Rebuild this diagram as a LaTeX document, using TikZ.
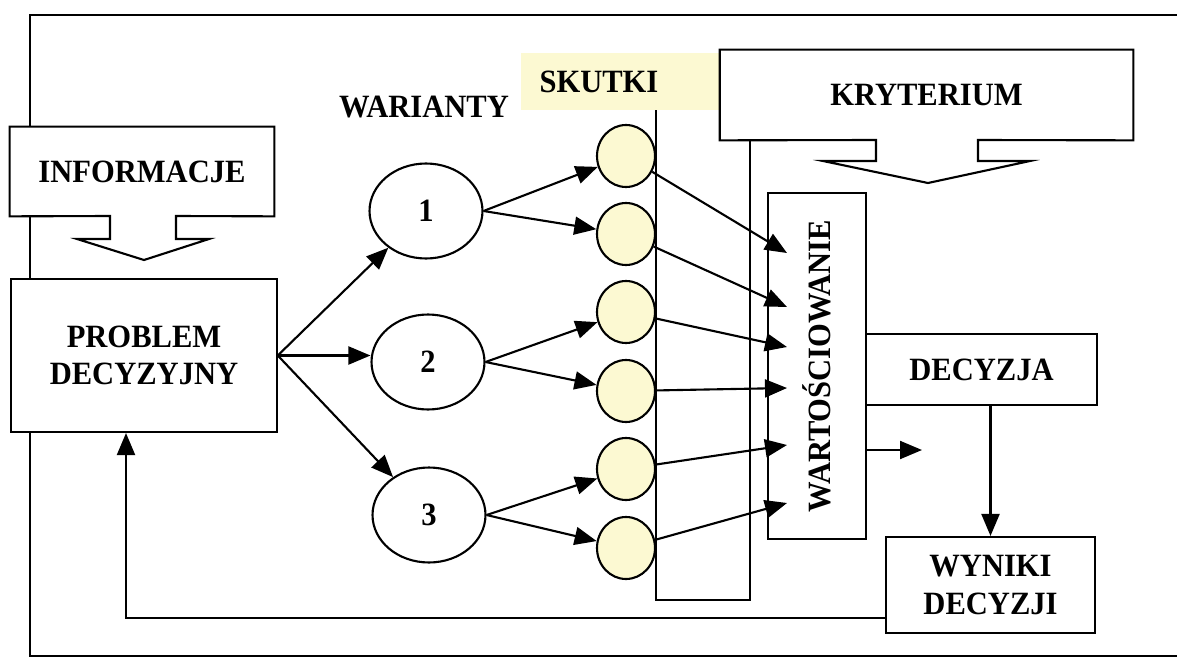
\documentclass[tikz,border=0pt]{standalone}
\usepackage{fontspec}
\setmainfont{Liberation Serif}[FakeStretch=0.94]
\usetikzlibrary{arrows.meta,positioning,shapes.geometric}
\definecolor{paleyellow}{RGB}{252,249,210}
\newcommand{\boxfont}{\fontsize{18.5}{21.5}\selectfont\bfseries}
\tikzset{
  panel/.style={draw=black, line width=1.2pt, fill=white, align=center, inner sep=0pt, font=\boxfont},
  plate/.style={fill=white, align=center, inner sep=0pt, font=\boxfont},
  title/.style={inner sep=0pt, font=\boxfont},
  variant/.style={ellipse, draw=black, line width=1.2pt, fill=white, minimum width=2.26cm, minimum height=1.9cm, inner sep=0pt, font=\boxfont},
  effect/.style={ellipse, draw=black, line width=1.2pt, fill=paleyellow, minimum width=1.16cm, minimum height=1.24cm, inner sep=0pt},
  wire/.style={line width=1.2pt, draw=black},
  flow/.style={-{Triangle[length=4.4mm, width=3.6mm]}, line width=1.2pt, draw=black}
}

\begin{document}
\begin{tikzpicture}[x=0.02cm, y=-0.02cm]
  \useasboundingbox (0,0) rectangle (1177,659);
  % frame
  \draw[wire] (1177,15) -- (30,15) -- (30,656) -- (1177,656);

  % left part
  \node[plate, minimum width=5.28cm, minimum height=1.78cm] (info) at (142,171.5) {INFORMACJE};
  \draw[wire] (info.north west) -- (info.north east) -- (info.south east) -- (176,216) -- (176,239)
    -- (209,239) -- (144,260) -- (77,239) -- (110,239) -- (110,216) -- (info.south west) -- cycle;
  \node[panel, minimum width=5.31cm, minimum height=3.06cm] (prob) at (144,355.5) {PROBLEM\\DECYZYJNY};

  \node[title] (war) at (424,107) {WARIANTY};
  \node[variant] (v1) at (426,211) {1};
  \node[variant] (v2) at (428,362) {2};
  \node[variant] (v3) at (429,515) {3};

  % effects column
  \node[title, fill=paleyellow, minimum width=3.8cm, minimum height=1.14cm, text width=3.42cm, inner xsep=0.38cm, align=left] (sk) at (625,81.5) {SKUTKI};
  \draw[wire] (656,110) -- (656,600) -- (750,600) -- (750,140);
  \node[effect] (s1) at (626,156) {};
  \node[effect] (s2) at (626,234) {};
  \node[effect] (s3) at (626,312) {};
  \node[effect] (s4) at (626,391) {};
  \node[effect] (s5) at (626,469) {};
  \node[effect] (s6) at (626,548) {};

  % right part
  \node[plate, minimum width=8.26cm, minimum height=1.8cm] (kryt) at (926.5,95) {KRYTERIUM};
  \draw[wire] (kryt.north west) -- (kryt.north east) -- (kryt.south east) -- (978,140) -- (978,161)
    -- (1030,161) -- (928,183) -- (823,161) -- (876,161) -- (876,140) -- (kryt.south west) -- cycle;
  \node[panel, minimum width=1.96cm, minimum height=6.92cm] (wart) at (817,366) {\rotatebox[origin=c]{90}{WARTOŚCIOWANIE}};
  \node[panel, minimum width=4.62cm, minimum height=1.42cm] (dec) at (981.5,369.5) {DECYZJA};
  \node[panel, minimum width=4.18cm, minimum height=1.92cm] (wyn) at (990.5,585) {WYNIKI\\DECYZJI};

  \coordinate (e1) at (787,253);
  \coordinate (e2) at (787,307);
  \coordinate (e3) at (787,347);
  \coordinate (e4) at (787,388);
  \coordinate (e5) at (787,445);
  \coordinate (e6) at (787,503);
  \coordinate (out) at (922,450);
  \coordinate (fb) at (126,618);

  \draw[flow] (prob.east) -- (v1);
  \draw[flow] (prob.east) -- (prob.east -| v2.west);
  \draw[flow] (prob.east) -- (v3);

  \draw[flow] (v1.east) -- (s1);
  \draw[flow] (v1.east) -- (s2);
  \draw[flow] (v2.east) -- (s3);
  \draw[flow] (v2.east) -- (s4);
  \draw[flow] (v3.east) -- (s5);
  \draw[flow] (v3.east) -- (s6);

  \draw[flow] (s1) -- (e1);
  \draw[flow] (s2) -- (e2);
  \draw[flow] (s3) -- (e3);
  \draw[flow] (s4) -- (e4);
  \draw[flow] (s5) -- (e5);
  \draw[flow] (s6) -- (e6);

  \draw[flow] (out -| wart.east) -- (out);
  \draw[flow] (dec.south -| wyn.north) -- (wyn.north);
  \draw[flow] (fb -| wyn.west) -- (fb) -- (fb |- prob.south);
\end{tikzpicture}
\end{document}
